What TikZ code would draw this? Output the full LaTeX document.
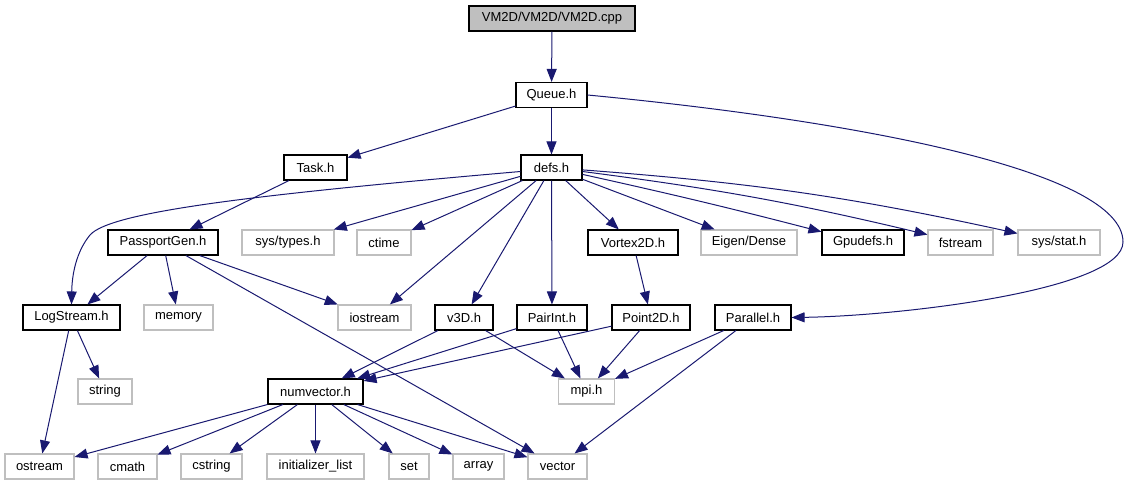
\documentclass[tikz,border=0pt]{standalone}
\usepackage{fontspec}
\setmainfont{Liberation Sans}
\usetikzlibrary{arrows.meta}

\definecolor{edgeblue}{HTML}{191970}
\definecolor{sysgray}{HTML}{BFBFBF}

\begin{document}
\begin{tikzpicture}[x=1pt, y=1pt,
    hdrbox/.style={draw=black, line width=1.1pt, fill=white, minimum height=25pt,
      inner sep=0pt, font=\fontsize{13}{15}\selectfont},
    sysbox/.style={hdrbox, draw=sysgray},
    rootbox/.style={hdrbox, fill=sysgray},
    incarrow/.style={edgeblue, line width=1pt, -{Triangle[length=13pt,width=10pt]}}]

\useasboundingbox (0,0) rectangle (1124,-485);

% Files
\node[rootbox, minimum width=166pt] (cpp) at (552,-18.5) {VM2D/VM2D/VM2D.cpp};
\node[hdrbox, minimum width=71pt] (queue) at (551.5,-95) {Queue.h};

\node[hdrbox, minimum width=63pt] (task) at (315.5,-167.5) {Task.h};
\node[hdrbox, minimum width=61pt] (defs) at (551.5,-167.5) {defs.h};

\node[hdrbox, minimum width=110pt] (passport) at (163,-242.5) {PassportGen.h};
\node[sysbox, minimum width=92pt] (systypes) at (288,-242.5) {sys/types.h};
\node[sysbox, minimum width=54pt] (ctime) at (384,-242.5) {ctime};
\node[hdrbox, minimum width=90pt] (vortex) at (633,-242.5) {Vortex2D.h};
\node[sysbox, minimum width=96pt] (eigen) at (749,-242.5) {Eigen/Dense};
\node[hdrbox, minimum width=82pt] (gpudefs) at (863,-242.5) {Gpudefs.h};
\node[sysbox, minimum width=65pt] (fstream) at (960.5,-242.5) {fstream};
\node[sysbox, minimum width=82pt] (sysstat) at (1059,-242.5) {sys/stat.h};

\node[hdrbox, minimum width=97pt] (logstream) at (71.5,-317.5) {LogStream.h};
\node[sysbox, minimum width=69pt] (memory) at (178.5,-317.5) {memory};
\node[sysbox, minimum width=73pt] (iostream) at (374.5,-317.5) {iostream};
\node[hdrbox, minimum width=58pt] (vthree) at (464,-317.5) {v3D.h};
\node[hdrbox, minimum width=70pt] (pairint) at (552,-317.5) {PairInt.h};
\node[hdrbox, minimum width=78pt] (point) at (651,-317.5) {Point2D.h};
\node[hdrbox, minimum width=76pt] (parallel) at (753,-317.5) {Parallel.h};

\node[sysbox, minimum width=54pt] (string) at (105,-391.5) {string};
\node[hdrbox, minimum width=95pt] (numvector) at (315.5,-391.5) {numvector.h};
\node[sysbox, minimum width=56pt] (mpi) at (586.5,-391.5) {mpi.h};

\node[sysbox, minimum width=69pt] (ostream) at (39.5,-466.5) {ostream};
\node[sysbox, minimum width=59pt] (cmath) at (127.5,-466.5) {cmath};
\node[sysbox, minimum width=61pt] (cstring) at (211.5,-466.5) {cstring};
\node[sysbox, minimum width=97pt] (initlist) at (315.5,-466.5) {initializer\_list};
\node[sysbox, minimum width=40pt] (set) at (409,-466.5) {set};
\node[sysbox, minimum width=51pt] (array) at (478.5,-466.5) {array};
\node[sysbox, minimum width=59pt] (vector) at (557.5,-466.5) {vector};

% Includes
\draw[incarrow] (cpp) -- (queue);
\draw[incarrow] (queue) -- (task);
\draw[incarrow] (queue) -- (defs);
\draw[incarrow] (queue.east) .. controls (850,-120) and (1123,-170) .. (1123,-242)
  .. controls (1123,-290) and (900,-316) .. (parallel.east);
\draw[incarrow] (task) -- (passport);

\draw[incarrow] ([yshift=-4pt]defs.west) .. controls (250,-195) and (110,-212) .. (90,-235)
  .. controls (76,-252) and (72,-275) .. (logstream.north);
\foreach \t in {systypes,ctime,iostream,vthree,pairint,vortex,eigen}
  \draw[incarrow] (defs) -- (\t);
\draw[incarrow] (defs) to[bend left=1] (gpudefs);
\draw[incarrow] (defs) to[bend left=3] (fstream);
\draw[incarrow] (defs) to[bend left=4] (sysstat);

\foreach \t in {logstream,memory,iostream,vector}
  \draw[incarrow] (passport) -- (\t);
\draw[incarrow] (logstream) -- (string);
\draw[incarrow] (logstream) -- (ostream);

\foreach \s in {vthree,pairint,point} {
  \draw[incarrow] (\s) -- (numvector);
  \draw[incarrow] (\s) -- (mpi);
}
\draw[incarrow] (vortex) -- (point);
\draw[incarrow] (parallel) -- (mpi);
\draw[incarrow] (parallel) -- (vector);

\foreach \t in {ostream,cmath,cstring,initlist,set,array,vector}
  \draw[incarrow] (numvector) -- (\t);

\end{tikzpicture}
\end{document}
